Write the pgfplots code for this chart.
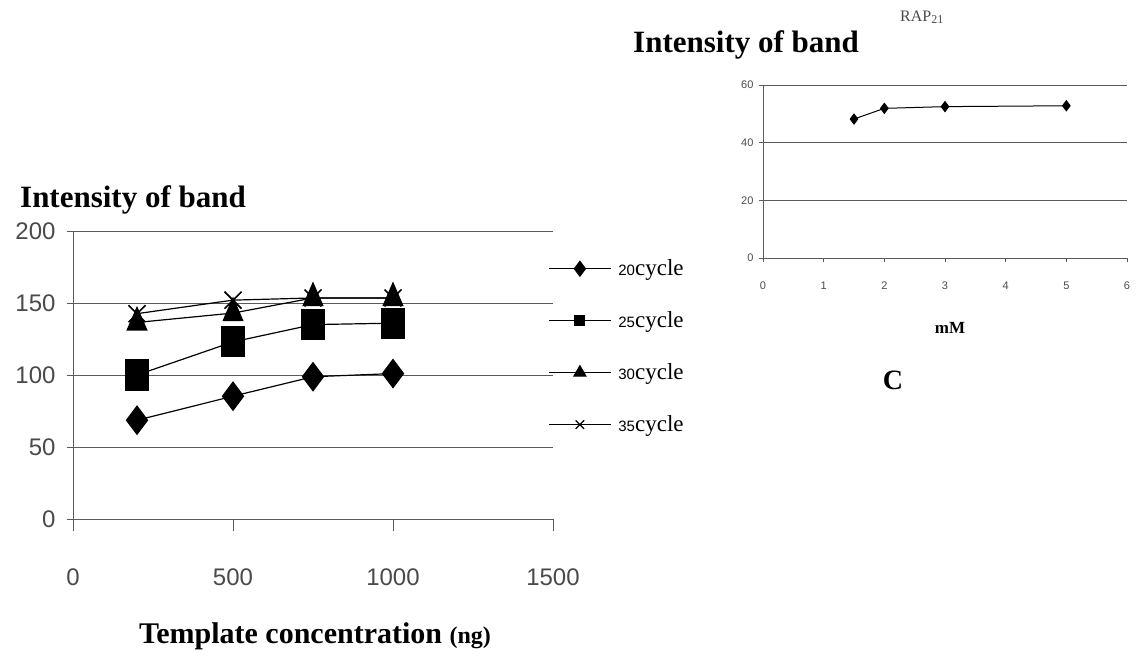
\documentclass[border=0pt]{standalone}
\usepackage{fontspec}
\setmainfont{Liberation Serif}
\setsansfont{Liberation Sans}
\usepackage{pgfplots}
\pgfplotsset{compat=1.18}
\definecolor{tickgray}{HTML}{4A4A4A}
\definecolor{gridgray}{HTML}{5A5A5A}

\begin{document}
\begin{tikzpicture}
\useasboundingbox (0pt,0pt) rectangle (1137pt,-656pt);

% left chart: intensity vs template concentration
\begin{axis}[
    at={(73pt,-519pt)}, anchor=south west,
    scale only axis, width=480pt, height=288pt,
    xmin=0, xmax=1500, ymin=0, ymax=200,
    xtick={0,500,1000,1500}, ytick={0,50,100,150,200},
    axis x line*=bottom, axis y line*=left,
    axis line style={-, gridgray, line width=0.8pt},
    tick style={gridgray, line width=0.8pt},
    major tick length=12pt,
    xtick align=outside, ytick align=center,
    ymajorgrids, grid style={gridgray, line width=0.8pt},
    /pgf/number format/assume math mode=true,
    /pgf/number format/set thousands separator={},
    ticklabel style={font=\fontsize{24}{27}\sffamily, text=tickgray},
    xticklabel style={yshift=-34pt},
    yticklabel style={xshift=-8pt},
    legend image code/.code={
        \draw[mark repeat=2, mark phase=2] plot coordinates {(0pt,0pt) (31pt,0pt) (62pt,0pt)};},
    legend style={at={(0.99,0.907)}, anchor=north west, draw=none, fill=none,
        inner sep=0pt, row sep=30.5pt, font=\fontsize{23}{26}\selectfont,
        nodes={inner sep=2pt},
        /tikz/every odd column/.append style={column sep=5pt}},
    legend cell align=left,
]
\addlegendimage{black, line width=1pt, mark=diamond*, mark size=7.5pt, mark options={solid}}
\addlegendentry{{\fontsize{15}{17}\sffamily 20}cycle}
\addlegendimage{black, line width=1pt, mark=square*, mark size=5pt}
\addlegendentry{{\fontsize{15}{17}\sffamily 25}cycle}
\addlegendimage{black, line width=1pt, mark=triangle*, mark size=7pt}
\addlegendentry{{\fontsize{15}{17}\sffamily 30}cycle}
\addlegendimage{black, line width=1pt, mark=x, mark size=6pt, mark options={line width=1.2pt}}
\addlegendentry{{\fontsize{15}{17}\sffamily 35}cycle}

\addplot[black, line width=1.2pt, mark=x, mark size=12pt, mark options={line width=1.6pt}, forget plot]
    coordinates {(200,142.6) (500,152) (750,153.5) (1000,153.5)};
\addplot[black, line width=1.2pt, mark=triangle*, mark size=15pt, mark options={xscale=0.75}, forget plot]
    coordinates {(200,136.5) (500,143) (750,153.5) (1000,153.5)};
\addplot[black, line width=1.2pt, mark=square*, mark size=15pt, mark options={xscale=0.73}, forget plot]
    coordinates {(200,100) (500,123) (750,135) (1000,136)};
\addplot[black, line width=1.2pt, mark=diamond*, mark size=14pt, forget plot]
    coordinates {(200,68.6) (500,85.3) (750,98.8) (1000,101)};
\end{axis}

% right chart: RAP21 vs mM
\begin{axis}[
    at={(763pt,-258pt)}, anchor=south west,
    scale only axis, width=364pt, height=173pt,
    xmin=0, xmax=6, ymin=0, ymax=60,
    xtick={0,1,...,6}, ytick={0,20,40,60},
    axis x line*=bottom, axis y line*=left,
    axis line style={-, gridgray, line width=0.8pt},
    tick style={gridgray, line width=0.8pt},
    major tick length=4pt,
    tick align=outside,
    ymajorgrids, grid style={gridgray, line width=0.8pt},
    /pgf/number format/assume math mode=true,
    ticklabel style={font=\fontsize{11}{13}\sffamily, text=tickgray},
    xticklabel style={yshift=-16pt},
    yticklabel style={xshift=-2pt},
]
\addplot[black, line width=1pt, mark=diamond*, mark size=5pt]
    coordinates {(1.5,48.2) (2,51.9) (3,52.5) (5,52.8)};
\end{axis}

\node[anchor=west, inner sep=0pt] at (20pt,-200pt) {\fontsize{31}{36}\selectfont\bfseries Intensity of band};
\node[anchor=west, inner sep=0pt] at (633pt,-45pt) {\fontsize{31}{36}\selectfont\bfseries Intensity of band};
\node[inner sep=0pt] at (315pt,-636pt) {\fontsize{30}{36}\selectfont\bfseries Template concentration {\fontsize{24}{28}\selectfont(ng)}};
\node[anchor=west, inner sep=0pt, text=tickgray] at (900pt,-17pt) {\fontsize{16}{18}\selectfont RAP\raisebox{-1.5pt}{\fontsize{12}{14}\selectfont 21}};
\node[inner sep=0pt] at (950pt,-328pt) {\fontsize{17}{20}\selectfont\bfseries mM};
\node[inner sep=0pt] at (893pt,-380pt) {\fontsize{28}{32}\selectfont\bfseries C};
\end{tikzpicture}
\end{document}
